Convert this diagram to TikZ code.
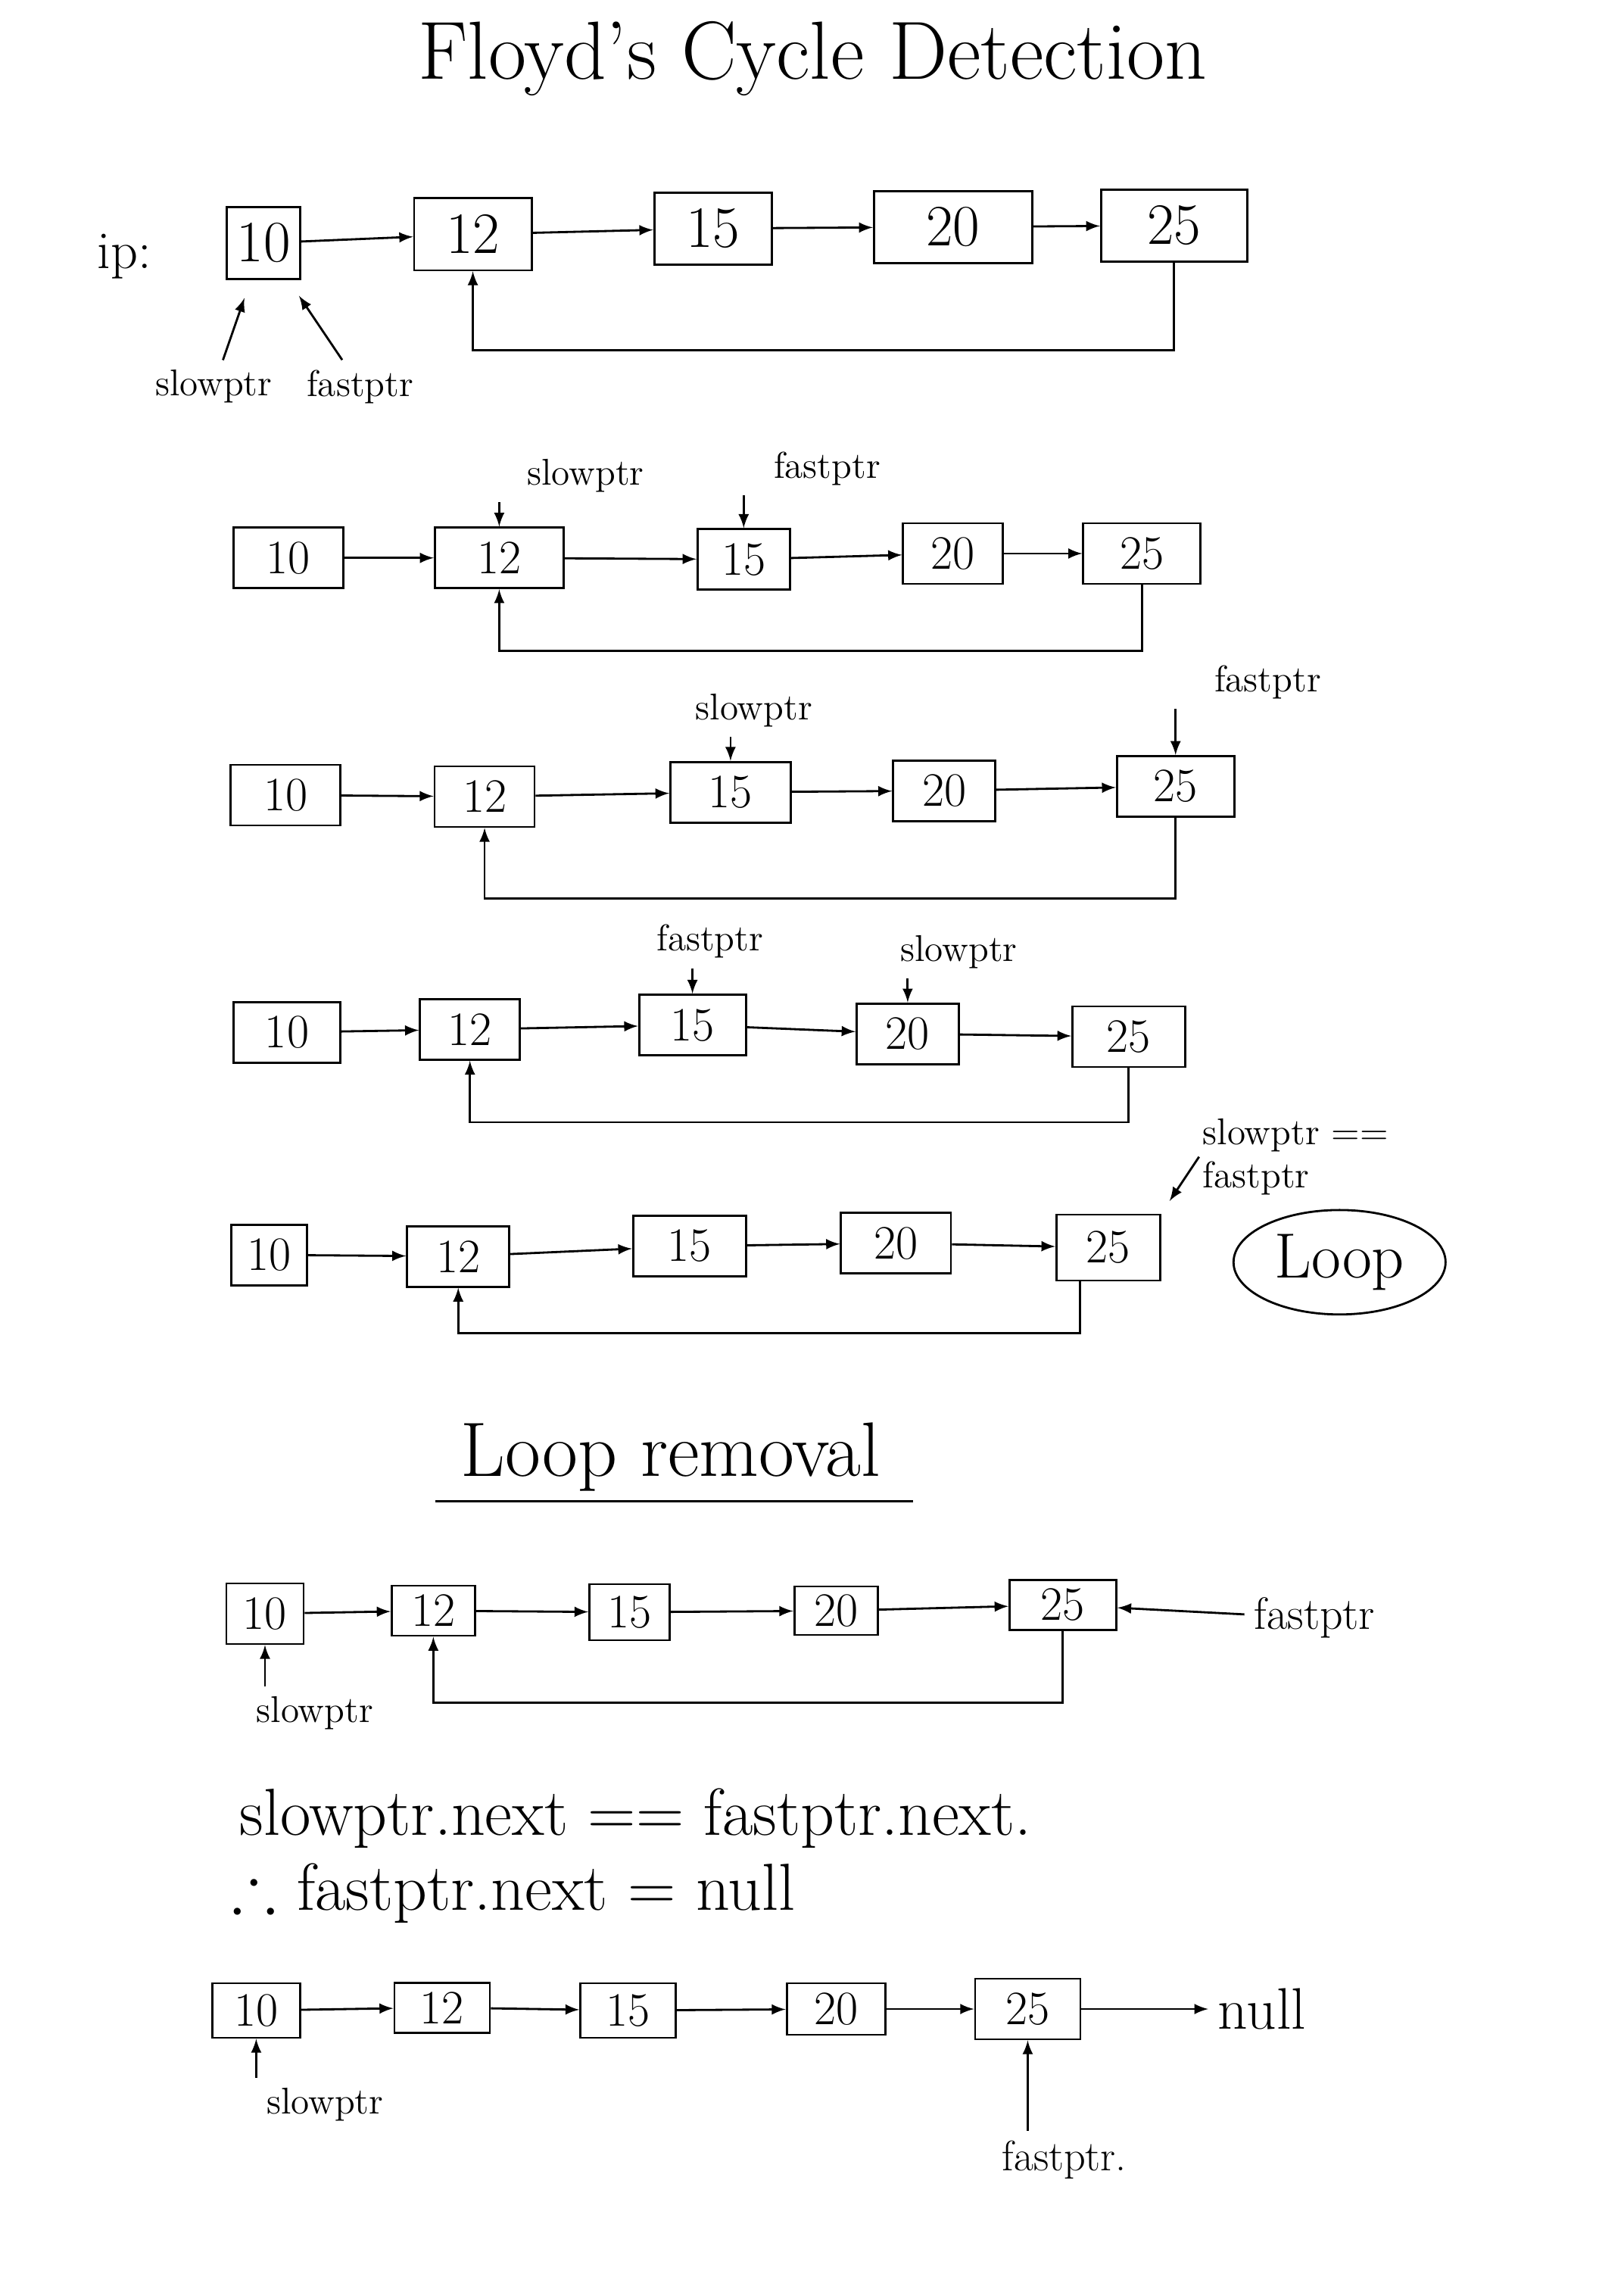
\documentclass[tikz,border=0pt]{standalone}
\usepackage{amssymb}
\usetikzlibrary{shapes.geometric}
\tikzset{
  cell/.style={rectangle, draw, thick, text centered, minimum height=0.8cm, inner sep=2pt, font=\fontsize{18}{20}\selectfont},
  bigcell/.style={cell, minimum height=0.95cm, font=\fontsize{22}{24}\selectfont},
  ptr/.style={font=\fontsize{14}{16}\selectfont},
  note/.style={anchor=west, inner sep=0pt, font=\fontsize{25}{28}\selectfont},
}
\begin{document}
\begin{tikzpicture}[x=0.01934cm, y=-0.01934cm, thick]
\useasboundingbox (0,0) rectangle (1092,1568);

%Title
\node (title) at (555,40) [font=\fontsize{31}{36}\selectfont] {Floyd's Cycle Detection};

%Row 1
\node (ip) at (85,175) [font=\fontsize{20}{24}\selectfont] {ip:};
\node (r1v10) at (180,166) [bigcell, minimum width=0.97cm] {10};
\node (r1v12) at (323,160) [bigcell, minimum width=1.55cm] {12};
\node (r1v15) at (487,156) [bigcell, minimum width=1.55cm] {15};
\node (r1v20) at (651,155) [bigcell, minimum width=2.09cm] {20};
\node (r1v25) at (802,154) [bigcell, minimum width=1.93cm] {25};
\node (r1slow) at (146,264) [ptr] {slowptr};
\node (r1fast) at (246,264) [ptr] {fastptr};
\draw [-latex] (r1v10) -- (r1v12);
\draw [-latex] (r1v12) -- (r1v15);
\draw [-latex] (r1v15) -- (r1v20);
\draw [-latex] (r1v20) -- (r1v25);
\draw [-latex] (r1v25.south) -- ++(0,60) -| (r1v12.south);
\draw [-latex, shorten >=0.25cm] (r1slow) -- (r1v10);
\draw [-latex, shorten >=0.25cm] (r1fast) -- (r1v10);

%Row 2
\node (r2v10) at (197,381) [cell, minimum width=1.45cm] {10};
\node (r2v12) at (341,381) [cell, minimum width=1.7cm] {12};
\node (r2v15) at (508,382) [cell, minimum width=1.22cm] {15};
\node (r2v20) at (651,378) [cell, minimum width=1.32cm] {20};
\node (r2v25) at (780,378) [cell, minimum width=1.55cm] {25};
\node (r2slow) at (400,325) [ptr] {slowptr};
\node (r2fast) at (565,320) [ptr] {fastptr};
\draw [-latex] (r2v10) -- (r2v12);
\draw [-latex] (r2v12) -- (r2v15);
\draw [-latex] (r2v15) -- (r2v20);
\draw [-latex] (r2v20) -- (r2v25);
\draw [-latex] (r2v25.south) -- ++(0,45) -| (r2v12.south);
\draw [-latex] (r2slow.south -| r2v12) -- (r2v12);
\draw [-latex] (r2fast.south -| r2v15) -- (r2v15);

%Row 3
\node (r3v10) at (195,543) [cell, minimum width=1.45cm] {10};
\node (r3v12) at (331,544) [cell, minimum width=1.32cm] {12};
\node (r3v15) at (499,541) [cell, minimum width=1.59cm] {15};
\node (r3v20) at (645,540) [cell, minimum width=1.35cm] {20};
\node (r3v25) at (803,537) [cell, minimum width=1.55cm] {25};
\node (r3slow) at (515,485) [ptr] {slowptr};
\node (r3fast) at (866,466) [ptr] {fastptr};
\draw [-latex] (r3v10) -- (r3v12);
\draw [-latex] (r3v12) -- (r3v15);
\draw [-latex] (r3v15) -- (r3v20);
\draw [-latex] (r3v20) -- (r3v25);
\draw [-latex] (r3v25.south) -- ++(0,55) -| (r3v12.south);
\draw [-latex] (r3slow.south -| r3v15) -- (r3v15);
\draw [-latex] (r3fast.south -| r3v25) -- (r3v25);

%Row 4
\node (r4v10) at (196,705) [cell, minimum width=1.41cm] {10};
\node (r4v12) at (321,703) [cell, minimum width=1.32cm] {12};
\node (r4v15) at (473,700) [cell, minimum width=1.41cm] {15};
\node (r4v20) at (620,706) [cell, minimum width=1.35cm] {20};
\node (r4v25) at (771,708) [cell, minimum width=1.49cm] {25};
\node (r4fast) at (485,643) [ptr] {fastptr};
\node (r4slow) at (655,650) [ptr] {slowptr};
\draw [-latex] (r4v10) -- (r4v12);
\draw [-latex] (r4v12) -- (r4v15);
\draw [-latex] (r4v15) -- (r4v20);
\draw [-latex] (r4v20) -- (r4v25);
\draw [-latex] (r4v25.south) -- ++(0,37) -| (r4v12.south);
\draw [-latex] (r4fast.south -| r4v15) -- (r4v15);
\draw [-latex] (r4slow.south -| r4v20) -- (r4v20);

%Row 5
\node (r5v10) at (184,857) [cell, minimum width=1.0cm] {10};
\node (r5v12) at (313,858) [cell, minimum width=1.35cm] {12};
\node (r5v15) at (471,851) [cell, minimum width=1.49cm] {15};
\node (r5v20) at (612,849) [cell, minimum width=1.45cm] {20};
\node (r5v25) at (757,852) [cell, minimum width=1.37cm, minimum height=0.87cm] {25};
\node (r5eq) at (885,790) [ptr, align=left, inner sep=1pt] {slowptr ==\\fastptr};
\node (loop) at (915,862) [ellipse, draw, minimum width=2.8cm, minimum height=1.35cm, font=\fontsize{24}{28}\selectfont] {Loop};
\draw [-latex] (r5v10) -- (r5v12);
\draw [-latex] (r5v12) -- (r5v15);
\draw [-latex] (r5v15) -- (r5v20);
\draw [-latex] (r5v20) -- (r5v25);
\draw [-latex] ([xshift=-0.37cm]r5v25.south) -- ++(0,35) -| (r5v12.south);
\draw [-latex, shorten >=0.2cm] (r5eq.west) -- (r5v25.north east);

%Loop removal
\node (lr) at (458,995) [font=\fontsize{29}{33}\selectfont] {Loop removal};
\draw ([xshift=-0.2cm]lr.south west) -- ([xshift=0.3cm]lr.south east);

%Row 6
\node (r6v10) at (181,1102) [cell, minimum width=1.02cm] {10};
\node (r6v12) at (296,1100) [cell, minimum width=1.1cm, minimum height=0.66cm] {12};
\node (r6v15) at (430,1101) [cell, minimum width=1.06cm, minimum height=0.74cm] {15};
\node (r6v20) at (571,1100) [cell, minimum width=1.1cm, minimum height=0.64cm] {20};
\node (r6v25) at (726,1096) [cell, minimum width=1.41cm, minimum height=0.66cm] {25};
\node (r6slow) at (215,1170) [ptr] {slowptr};
\node (r6fast) at (898,1105) [ptr, font=\fontsize{17}{20}\selectfont] {fastptr};
\draw [-latex] (r6v10) -- (r6v12);
\draw [-latex] (r6v12) -- (r6v15);
\draw [-latex] (r6v15) -- (r6v20);
\draw [-latex] (r6v20) -- (r6v25);
\draw [-latex] (r6v25.south) -- ++(0,49) -| (r6v12.south);
\draw [-latex] (r6slow.north -| r6v10) -- (r6v10);
\draw [-latex] (r6fast) -- (r6v25);

%Condition
\node (eq1) at (163,1242) [note] {slowptr.next == fastptr.next.};
\node (eq2) at (158,1293) [note] {$\therefore$ fastptr.next = null};

%Row 7
\node (r7v10) at (175,1373) [cell, minimum width=1.16cm, minimum height=0.72cm] {10};
\node (r7v12) at (302,1371) [cell, minimum width=1.26cm, minimum height=0.66cm] {12};
\node (r7v15) at (429,1373) [cell, minimum width=1.26cm, minimum height=0.72cm] {15};
\node (r7v20) at (571,1372) [cell, minimum width=1.3cm, minimum height=0.68cm] {20};
\node (r7v25) at (702,1372) [cell, minimum width=1.39cm] {25};
\node (null) at (862,1372) [font=\fontsize{22}{26}\selectfont] {null};
\node (r7slow) at (222,1437) [ptr] {slowptr};
\node (r7fast) at (727,1475) [ptr, font=\fontsize{16}{18}\selectfont] {fastptr.};
\draw [-latex] (r7v10) -- (r7v12);
\draw [-latex] (r7v12) -- (r7v15);
\draw [-latex] (r7v15) -- (r7v20);
\draw [-latex] (r7v20) -- (r7v25);
\draw [-latex] (r7v25) -- (null);
\draw [-latex] (r7slow.north -| r7v10) -- (r7v10);
\draw [-latex] (r7fast.north -| r7v25) -- (r7v25);

\end{tikzpicture}
\end{document}
